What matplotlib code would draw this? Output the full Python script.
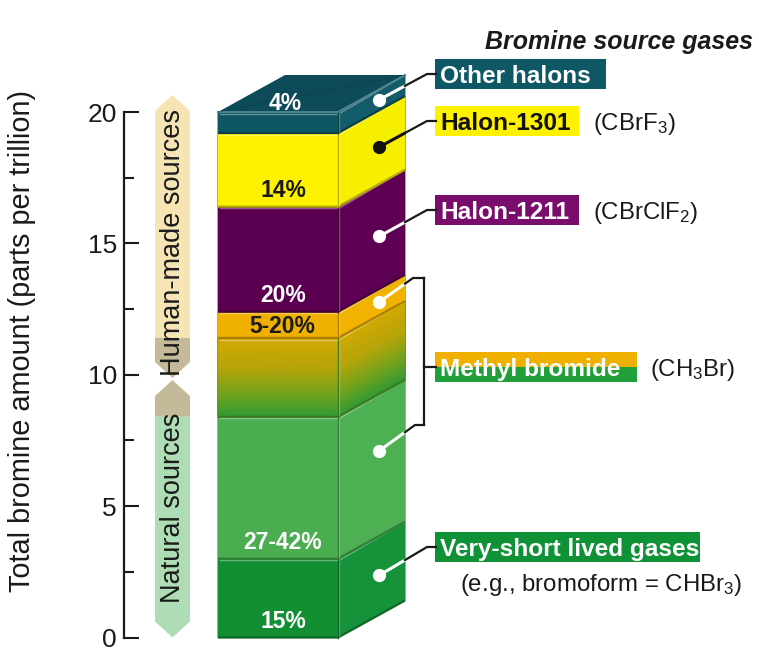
import numpy as np
import matplotlib
matplotlib.use("Agg")
import matplotlib.pyplot as plt
from matplotlib.patches import Polygon, Rectangle
from matplotlib.colors import LinearSegmentedColormap, to_rgb

plt.rcParams['font.family'] = ['Liberation Sans', 'DejaVu Sans']
plt.rcParams['mathtext.default'] = 'regular'

# ---- data: bromine source gases, stacked bottom to top (ppt) ----
segment_names = ["Very-short lived gases", "Methyl bromide (natural)",
                 "Methyl bromide (natural/human range)", "Methyl bromide (human-made)",
                 "Halon-1211", "Halon-1301", "Other halons"]
amounts = [3.0, 5.4, 3.0, 1.0, 4.0, 2.8, 0.8]
pct_labels = ["15%", "27-42%", "", "5-20%", "20%", "14%", "4%"]
pct_colors = ["white", "white", "white", "#1a1a1a", "white", "#1a1a1a", "white"]
front_colors = ["#128f33", "#4aae50", None, "#efb000", "#5b0050", "#fff200", "#0f5663"]
side_colors = ["#16923a", "#4db153", None, "#f1b300", "#5e0053", "#f6ef00", "#135c69"]
gradient_stops = [(0.0, "#2f9a35"), (0.25, "#6aa21f"), (0.6, "#b3a40b"), (1.0, "#d4a900")]

y_ticks = [0, 5, 10, 15, 20]
y_minor = [2.5, 7.5, 12.5, 17.5]

# ---- canvas geometry (x in pixels, y in ppt) ----
W, H = 759, 656
Y0, PX_PER_PPT = 637.5, 26.275


def py(pix):
    """Convert a pixel row on the canvas to ppt on the y axis."""
    return (Y0 - pix) / PX_PER_PPT


fig = plt.figure(figsize=(W / 100, H / 100), dpi=100)
ax = fig.add_axes([0, 0, 1, 1])
ax.set_xlim(0, W)
ax.set_ylim(py(H), py(0))
for s in ["top", "right", "bottom"]:
    ax.spines[s].set_visible(False)
ax.spines["left"].set_position(("data", 124))
ax.spines["left"].set_bounds(0, 20)
ax.spines["left"].set_linewidth(1.6)
ax.spines["left"].set_color("#1a1a1a")
ax.set_xticks([])
ax.set_yticks(y_ticks)
ax.set_yticks(y_minor, minor=True)
ax.tick_params(axis="y", which="major", direction="in", length=10.5, width=1.5,
               labelsize=19, pad=5, colors="#1a1a1a")
ax.tick_params(axis="y", which="minor", direction="in", length=7.5, width=1.5,
               colors="#1a1a1a")
ax.patch.set_alpha(0)

fig.text(22 / W, 1 - 341 / H, "Total bromine amount (parts per trillion)",
         rotation=90, ha="center", va="center", fontsize=20.8, color="#1a1a1a")
ax.text(619, py(42), "Bromine source gases", ha="center", va="center",
        fontsize=18, fontweight="bold", fontstyle="italic", color="#1a1a1a")


def shade(c, f):
    r, g, b = to_rgb(c)
    if f < 1:
        return (r * f, g * f, b * f)
    f = f - 1
    return (r + (1 - r) * f, g + (1 - g) * f, b + (1 - b) * f)


# ---- 3-D stacked column ----
x0, x1 = 218, 338
ddx, ddy = 67, 37 / PX_PER_PPT
bottoms = np.concatenate([[0.0], np.cumsum(amounts)[:-1]])
tops = np.cumsum(amounts)
grad_cmap = LinearSegmentedColormap.from_list("mebr", gradient_stops)

for i, (b, t) in enumerate(zip(bottoms, tops)):
    if front_colors[i] is None:
        n = 40
        tt = np.linspace(0, 1, n)
        yy = b + tt * (t - b)
        Xf = np.tile([x0, x1], (n, 1))
        Yf = np.column_stack([yy, yy])
        Cf = np.column_stack([tt, tt])
        ax.pcolormesh(Xf, Yf, Cf, cmap=grad_cmap, shading="gouraud", vmin=0, vmax=1, zorder=2)
        Xs = np.tile([x1, x1 + ddx], (n, 1))
        Ys = np.column_stack([yy, yy + ddy])
        ax.pcolormesh(Xs, Ys, Cf, cmap=grad_cmap, shading="gouraud", vmin=0, vmax=1, zorder=2)
        edge = "#3c7a22"
        hi = (1, 1, 1, 0.35)
    else:
        fc, sc = front_colors[i], side_colors[i]
        ax.add_patch(Rectangle((x0, b), x1 - x0, t - b, facecolor=fc, edgecolor="none", zorder=2))
        ax.add_patch(Polygon([(x1, b), (x1 + ddx, b + ddy), (x1 + ddx, t + ddy), (x1, t)],
                             closed=True, facecolor=sc, edgecolor="none", zorder=2))
        edge = shade(fc, 0.72)
        hi = shade(fc, 1.35)
    # seams between blocks and bevel highlights
    e = 1.6 / PX_PER_PPT
    ax.plot([x0, x1, x1 + ddx], [b, b, b + ddy], color=edge, lw=1.6, zorder=3,
            solid_capstyle="butt")
    ax.plot([x0 + 1.5, x1 - 1.5], [t - e, t - e], color=hi, lw=1.0, zorder=3)
    ax.plot([x1 + 1.5, x1 + ddx - 1.5], [t - e, t + ddy - e * 0.6], color=hi, lw=1.0, zorder=3)
    ax.plot([x1 + 1.2, x1 + 1.2], [b + e, t - e], color=hi, lw=0.9, zorder=3)
    ax.plot([x1 - 0.5, x1 - 0.5], [b, t], color=edge, lw=1.0, zorder=3)

total = tops[-1]
ax.add_patch(Polygon([(x0, total), (x1, total), (x1 + ddx, total + ddy), (x0 + ddx, total + ddy)],
                     closed=True, facecolor="#0c4b57", edgecolor="none", zorder=2))
ax.plot([x0, x1, x1 + ddx], [total, total, total + ddy], color="#4f8791", lw=1.3, zorder=3)
ax.plot([x0 - 0.5, x0 - 0.5, x1 + ddx + 0.5, x1 + ddx + 0.5],
        [0, total, total + ddy, ddy], color="#0a3c45", lw=0.6, alpha=0.5, zorder=3)

# percentage labels on the blocks
label_off = 16 / PX_PER_PPT
pct_size = 16.5
for i, (b, t) in enumerate(zip(bottoms, tops)):
    txt = pct_labels[i]
    if not txt:
        continue
    if i == len(amounts) - 1:
        ax.text(285, total + 0.33, txt, ha="center", va="center", fontsize=pct_size,
                fontweight="bold", color=pct_colors[i], zorder=5)
    elif segment_names[i] == "Methyl bromide (human-made)":
        ax.text(282, (b + t) / 2 - 0.05, txt, ha="center", va="center", fontsize=pct_size,
                fontweight="bold", color=pct_colors[i], zorder=5)
    else:
        ax.text(283, b + label_off, txt, ha="center", va="center", fontsize=pct_size,
                fontweight="bold", color=pct_colors[i], zorder=5)

# ---- source bands on the left ----
bx0, bx1 = 155, 190
bxc = (bx0 + bx1) / 2
tip = 16 / PX_PER_PPT
human_col, overlap_col, natural_col = "#f6e4b4", "#c4b999", "#addcb5"
nat_top, hum_bot = py(380), py(378)
hum_top = py(95)
unc_lo, unc_hi = tops[1], tops[2]

ax.add_patch(Polygon([(bxc, hum_top), (bx1, hum_top - tip), (bx1, unc_hi), (bx0, unc_hi),
                      (bx0, hum_top - tip)], closed=True, facecolor=human_col,
                     edgecolor="none", zorder=2))
ax.add_patch(Polygon([(bx0, unc_hi), (bx1, unc_hi), (bx1, hum_bot + tip), (bxc, hum_bot),
                      (bx0, hum_bot + tip)], closed=True, facecolor=overlap_col,
                     edgecolor="none", zorder=2))
ax.add_patch(Polygon([(bxc, nat_top), (bx1, nat_top - tip), (bx1, unc_lo), (bx0, unc_lo),
                      (bx0, nat_top - tip)], closed=True, facecolor=overlap_col,
                     edgecolor="none", zorder=2))
ax.add_patch(Polygon([(bx0, unc_lo), (bx1, unc_lo), (bx1, tip), (bxc, 0), (bx0, tip)],
                     closed=True, facecolor=natural_col, edgecolor="none", zorder=2))
ax.text(bxc + 1, py(243), "Human-made sources", rotation=90, ha="center", va="center",
        fontsize=19.5, color="#1a1a1a", zorder=4)
ax.text(bxc + 1, py(508), "Natural sources", rotation=90, ha="center", va="center",
        fontsize=19.5, color="#1a1a1a", zorder=4)

# ---- callouts ----
skew = (379 - x1) / ddx * ddy
dot_x = 379
edge_x = x1 + ddx
elbow_x, lab_x = 427, 436


def callout(seg, frac, label_y, dot_color, line_in="white"):
    yd = bottoms[seg] + frac * amounts[seg] + skew
    ye = label_y
    # point on the column edge along the leader line
    slope = (ye - yd) / (elbow_x - dot_x)
    y_edge = yd + slope * (edge_x - dot_x)
    ax.plot([dot_x, edge_x], [yd, y_edge], color=line_in, lw=2.2, zorder=6,
            solid_capstyle="round")
    ax.plot([edge_x, elbow_x, lab_x], [y_edge, ye, ye], color="#1a1a1a", lw=1.6, zorder=6)
    ax.plot(dot_x, yd, "o", ms=8.5, mfc=dot_color, mec=dot_color, zorder=7)


callout(6, 0.5, py(74), "white")
callout(5, 0.5, py(121), "#111111", line_in="#111111")
callout(4, 0.5, py(210), "white")
callout(0, 0.5, py(547), "white")

# methyl bromide bracket
br_x = 424
for seg, frac, corner_y in [(3, 0.5, py(278)), (1, 0.6, py(425))]:
    yd = bottoms[seg] + frac * amounts[seg] + skew
    cx = 413 if seg == 3 else 415
    slope = (corner_y - yd) / (cx - dot_x)
    y_edge = yd + slope * (edge_x - dot_x)
    ax.plot([dot_x, edge_x], [yd, y_edge], color="white", lw=2.2, zorder=6,
            solid_capstyle="round")
    ax.plot([edge_x, cx, br_x], [y_edge, corner_y, corner_y], color="#1a1a1a", lw=1.6,
            zorder=6)
    ax.plot(dot_x, yd, "o", ms=8.5, mfc="white", mec="white", zorder=7)
ax.plot([br_x, br_x], [py(278), py(425)], color="#1a1a1a", lw=1.6, zorder=6)
ax.plot([br_x, lab_x], [py(367), py(367)], color="#1a1a1a", lw=1.6, zorder=6)

# label boxes
hbox = 30 / PX_PER_PPT
box_size = 17.6
formula_size = 17.3


def label_box(yc_pix, width, text, fc, tc, formula=None, fx=None):
    yc = py(yc_pix)
    ax.add_patch(Rectangle((lab_x - 1, yc - hbox / 2), width, hbox, facecolor=fc,
                           edgecolor="none", zorder=5))
    ax.text(lab_x + 4, yc, text, ha="left", va="center_baseline", fontsize=box_size,
            fontweight="bold", color=tc, zorder=6)
    if formula:
        ax.text(fx, yc, formula, ha="left", va="center_baseline", fontsize=formula_size,
                color="#1a1a1a", zorder=6)


label_box(74, 171, "Other halons", "#0e5866", "white")
label_box(120.5, 144, "Halon-1301", "#fff200", "#111111", "(CBrF$_3$)", 593)
label_box(210, 144, "Halon-1211", "#7a0c6b", "white", "(CBrClF$_2$)", 593)

# methyl bromide box: human-made over natural colouring
yc = py(367)
ax.add_patch(Rectangle((lab_x - 1, yc), 202, hbox / 2, facecolor="#efb000",
                       edgecolor="none", zorder=5))
ax.add_patch(Rectangle((lab_x - 1, yc - hbox / 2), 202, hbox / 2, facecolor="#21a03a",
                       edgecolor="none", zorder=5))
ax.text(lab_x + 4, yc, "Methyl bromide", ha="left", va="center_baseline", fontsize=box_size,
        fontweight="bold", color="white", zorder=6)
ax.text(650, yc, "(CH$_3$Br)", ha="left", va="center_baseline", fontsize=formula_size,
        color="#1a1a1a", zorder=6)

label_box(547, 265, "Very-short lived gases", "#0f9236", "white")
ax.text(601, py(581), "(e.g., bromoform = CHBr$_3$)", ha="center", va="center_baseline",
        fontsize=formula_size, color="#1a1a1a", zorder=6)

fig.savefig("out.png", dpi=100)
